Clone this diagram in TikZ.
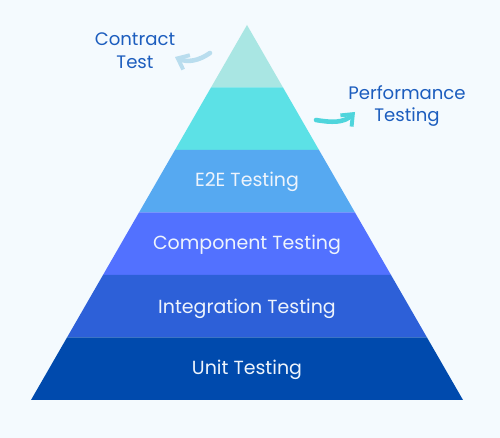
\documentclass[tikz,border=0pt]{standalone}
\usepackage{fontspec}
\setmainfont{Poppins}
\usetikzlibrary{calc,arrows.meta}

\begin{document}
\begin{tikzpicture}[x=0.02cm, y=0.02cm,
    band/.style={draw=none},
    layer/.style={text=layertext, font=\fontsize{10.8}{12}\selectfont},
    side/.style={text=sidetext, align=center, font=\fontsize{10.3}{13}\selectfont},
    curl/.style={line width=2.6pt, line cap=round, -{Straight Barb[length=5.5pt, width=9pt, line width=2.2pt]}}]
    \definecolor{bg}{HTML}{F4FAFE}
    \definecolor{sidetext}{HTML}{1C5DBE}
    \definecolor{layertext}{HTML}{EEF4FC}
    \definecolor{tealpale}{HTML}{A9E6E3}
    \definecolor{teal}{HTML}{5CE1E6}
    \definecolor{skyblue}{HTML}{56A9F1}
    \definecolor{blueish}{HTML}{5271FF}
    \definecolor{midblue}{HTML}{2D60D8}
    \definecolor{deepblue}{HTML}{004AAD}
    \definecolor{curlpale}{HTML}{B9DDEE}
    \definecolor{curlteal}{HTML}{4FD5DC}

    % Background
    \fill[bg] (0,0) rectangle (500,438);

    % Pyramid corners
    \coordinate (apex) at (247,413);
    \coordinate (bl) at (31,38);
    \coordinate (br) at (463,38);

    % Draw layers
    \foreach \i/\c in {0/tealpale, 1/teal, 2/skyblue, 3/blueish, 4/midblue, 5/deepblue} {
        \fill[band, \c] ($(apex)!\i/6!(bl)$) -- ($(apex)!\i/6+1/6!(bl)$)
            -- ($(apex)!\i/6+1/6!(br)$) -- ($(apex)!\i/6!(br)$) -- cycle;
    }

    % Layer labels
    \node[layer] (e2e) at (247,256) {E2E Testing};
    \node[layer] (comp) at (247,193) {Component Testing};
    \node[layer] (integ) at (247,129) {Integration Testing};
    \node[layer] (unit) at (247,68) {Unit Testing};

    % Side labels
    \node[side] (contract) at (135,387) {Contract\\Test};
    \node[side] (perf) at (407,332) {Performance\\Testing};

    % Arrows
    \coordinate (c1) at (210,385);
    \coordinate (c2) at (175,381);
    \coordinate (p1) at (316,318);
    \coordinate (p2) at (355,326);
    \draw[curl, curlpale] (c1) to[out=215, in=-25] (c2);
    \draw[curl, curlteal] (p1) to[out=-10, in=225] (p2);
\end{tikzpicture}
\end{document}
